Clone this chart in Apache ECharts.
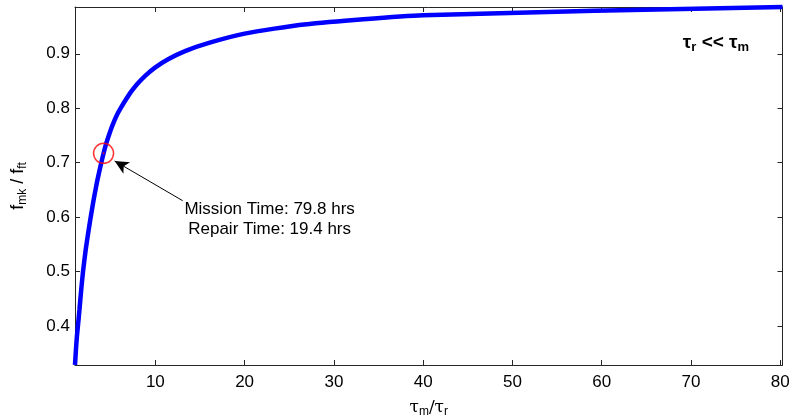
<!DOCTYPE html>
<html><head><meta charset="utf-8">
<script src="https://cdn.jsdelivr.net/npm/echarts@6/dist/echarts.min.js"></script>
<style>html,body{margin:0;padding:0;background:#fff}#c{width:791px;height:419px}</style>
</head><body><div id="c"></div>
<script>
// tau_m / tau_r values (x) and f_mk / f_ft values (y)
var ratioX = [1, 1.1, 1.2, 1.33, 1.5, 1.7, 1.9, 2.2, 2.5, 2.76, 3.1, 3.5, 3.95, 4.44, 5, 5.33, 5.71, 6.15, 6.67, 7.27, 8, 8.89, 10, 11.43, 13.33, 16, 20, 26.67, 40, 80.25];
var fRatio = [0.328, 0.355, 0.378, 0.40, 0.43, 0.467, 0.50, 0.54, 0.573, 0.60, 0.633, 0.667, 0.70, 0.732, 0.76, 0.774, 0.788, 0.801, 0.815, 0.83, 0.845, 0.86, 0.875, 0.89, 0.905, 0.92, 0.937, 0.954, 0.971, 0.986];
var xTicks = [10, 20, 30, 40, 50, 60, 70, 80];
var yTicks = [0.4, 0.5, 0.6, 0.7, 0.8, 0.9];
var xRange = [1, 80.25];
var yRange = [0.328, 0.986];
var highlight = [4.2, 0.717];
var arrowTail = [13.06, 0.63];
var arrowHead = [5.44, 0.703];
var noteLines = ['Mission Time: 79.8 hrs', 'Repair Time: 19.4 hrs'];
var notePos = [22.8, 0.595];
var regimePos = [72.8, 0.92];

var pts = ratioX.map(function (x, i) { return [x, fRatio[i]]; });
var FONT = 'Liberation Sans, Arial, sans-serif';
var axisCol = '#262626';

function xAx(pos, show) {
  return {
    type: 'value', position: pos, min: xRange[0], max: xRange[1],
    axisLine: { show: true, onZero: false, lineStyle: { color: axisCol, width: 1 } },
    axisTick: { show: true, inside: true, length: 5, customValues: xTicks, lineStyle: { color: axisCol } },
    axisLabel: { show: show, customValues: xTicks, color: '#000', fontSize: 17, fontFamily: FONT, margin: 9 },
    splitLine: { show: false }
  };
}
function yAx(pos, show) {
  return {
    type: 'value', position: pos, min: yRange[0], max: yRange[1],
    axisLine: { show: true, onZero: false, lineStyle: { color: axisCol, width: 1 } },
    axisTick: { show: true, inside: true, length: 5, customValues: yTicks, lineStyle: { color: axisCol } },
    axisLabel: { show: show, customValues: yTicks, color: '#000', fontSize: 17, fontFamily: FONT, margin: 5,
      formatter: function (v) { return v.toFixed(1); } },
    splitLine: { show: false }
  };
}

var xa = xAx('bottom', true);
xa.name = '{t|τ}{s|m}{t|/τ}{s|r}';
xa.nameLocation = 'middle';
xa.nameGap = 33;
xa.nameTextStyle = { rich: {
  t: { fontSize: 17, fontFamily: 'DejaVu Serif, serif', color: '#000' },
  s: { fontSize: 12, fontFamily: FONT, color: '#000', padding: [8, 0, 0, 0] }
} };
var ya = yAx('left', true);
ya.name = '{t|f}{s|mk}{t| / f}{s|ft}';
ya.nameLocation = 'middle';
ya.nameGap = 46;
ya.nameRotate = 90;
ya.nameTextStyle = { rich: {
  t: { fontSize: 18, fontFamily: FONT, color: '#000' },
  s: { fontSize: 12, fontFamily: FONT, color: '#000', padding: [9, 0, 0, 0] }
} };

var option = {
  animation: false,
  backgroundColor: '#fff',
  grid: { left: 75, top: 7, right: 8.5, bottom: 54, containLabel: false, outerBoundsMode: 'none' },
  xAxis: [xa, xAx('top', false)],
  yAxis: [ya, yAx('right', false)],
  series: [
    {
      type: 'line', data: pts, showSymbol: false, symbol: 'none', clip: false, smooth: 0.2,
      lineStyle: { color: '#0000ff', width: 4.5 }, z: 3,
      markLine: {
        silent: true, symbol: ['none', 'arrow'], symbolSize: [10, 14],
        lineStyle: { color: '#000', width: 1, type: 'solid' },
        label: { show: false },
        data: [[{ coord: arrowTail }, { coord: arrowHead }]]
      },
      markPoint: {
        silent: true,
        data: [
          { coord: notePos, symbol: 'circle', symbolSize: 0,
            label: { show: true, position: 'inside', formatter: noteLines.join('\n'), color: '#000',
              fontSize: 17, fontFamily: FONT, lineHeight: 20, align: 'center' } },
          { coord: regimePos, symbol: 'circle', symbolSize: 0,
            label: { show: true, position: 'inside', formatter: '{t|τ}{s|r}{t| << τ}{s|m}',
              rich: {
                t: { fontSize: 19, fontWeight: 'bold', fontFamily: FONT, color: '#000' },
                s: { fontSize: 13, fontWeight: 'bold', fontFamily: FONT, color: '#000', padding: [10, 0, 0, 0] }
              } } }
        ]
      }
    },
    {
      type: 'scatter', data: [highlight], symbol: 'circle', symbolSize: 20, z: 5,
      itemStyle: { color: 'rgba(0,0,0,0)', borderColor: '#ff0000', borderWidth: 1.5 }
    },
    {
      type: 'scatter', data: [highlight], symbol: 'circle', symbolSize: 2, z: 6,
      itemStyle: { color: '#ff0000' }
    }
  ]
};
var chart = echarts.init(document.getElementById('c'), null, { renderer: 'canvas' });
chart.setOption(option);
</script></body></html>
